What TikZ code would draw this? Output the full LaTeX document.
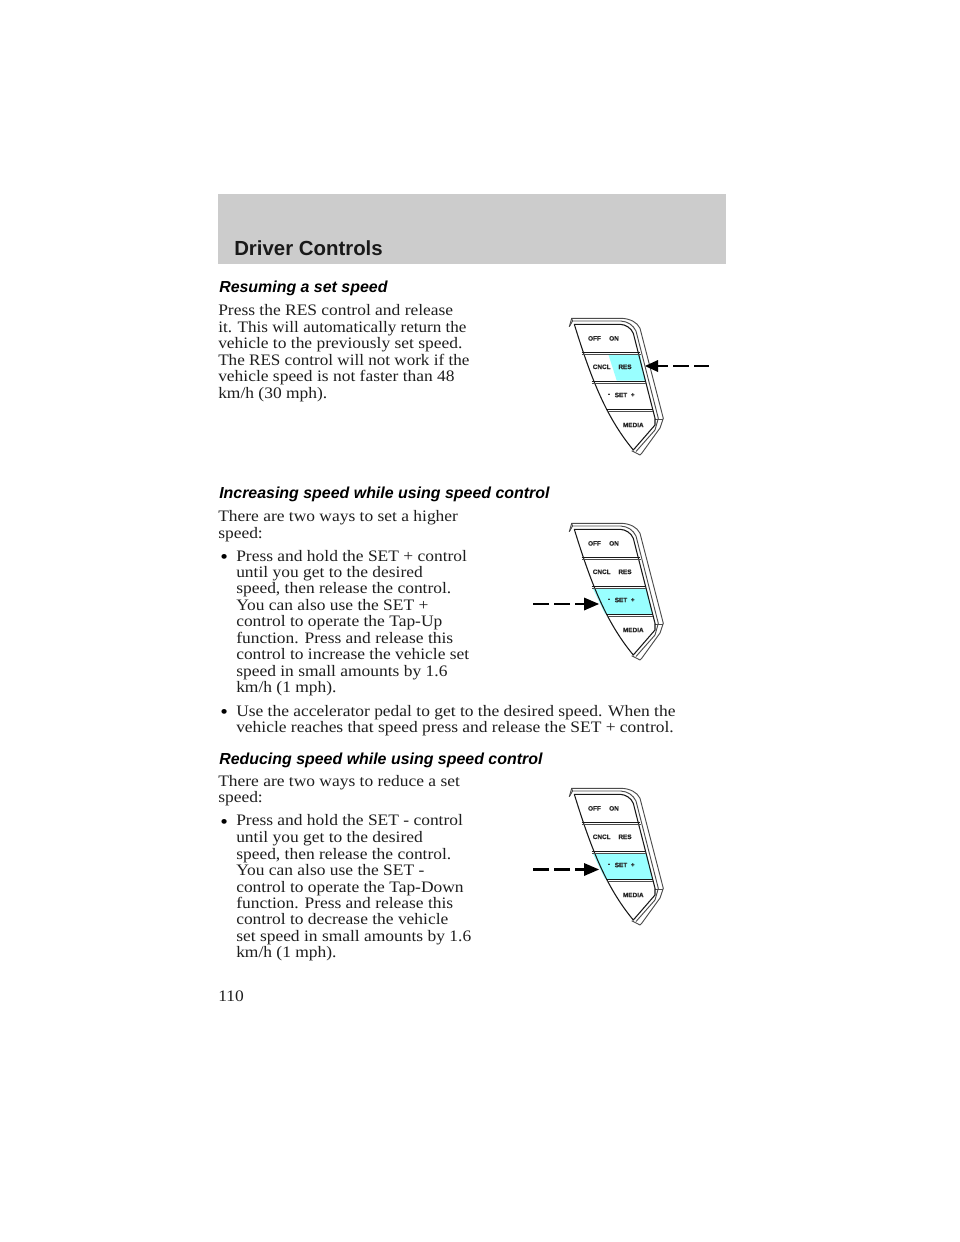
\documentclass[tikz,border=0pt]{standalone}
\usepackage{fontspec}
\setmainfont{Liberation Serif}[FakeStretch=1.09]
\setsansfont{Liberation Sans}
\newfontfamily\labfont{Liberation Sans}[BoldFeatures={FakeBold=0.8}]
\usetikzlibrary{arrows.meta}
\definecolor{hdr}{HTML}{CCCCCC}
\definecolor{hilite}{HTML}{99FFFF}
\tikzset{
  body/.style={anchor=base west,inner sep=0pt,font=\fontsize{12pt}{14pt}\selectfont,text=black!88},
  bul/.style={anchor=base west,inner sep=0pt,font=\fontsize{15pt}{14pt}\selectfont},
  sect/.style={anchor=base west,inner sep=0pt,font=\sffamily\bfseries\itshape\fontsize{11.95pt}{14pt}\selectfont},
  title/.style={anchor=base west,inner sep=0pt,font=\sffamily\bfseries\fontsize{15.3pt}{18pt}\selectfont,text=black!90},
  lab/.style={inner sep=0pt,font=\labfont\bfseries\fontsize{4.8pt}{6pt}\selectfont,text=black!85},
  edge/.style={draw=black!90,line width=0.8pt,line join=round},
  thin/.style={draw=black!70,line width=0.7pt,line join=round},
  dashseg/.style={draw=black,line width=2pt},
  head/.style={fill=black,draw=none}
}
% #1 prefix, #2 y shift, #3 RES highlight colour, #4 SET highlight colour
\newcommand{\panelpic}[4]{
  \begin{scope}[yshift=#2*-0.75pt]
    \fill[#3] (608.3,354.3) -- (640,354.3) -- (645.7,380.5) -- (616.7,380.5) -- cycle;
    \fill[#4] (592.7,383.3) -- (646.7,383.3) -- (652.7,409) -- (605,409) -- cycle;
    % outer rim
    \path[thin] (569.3,326.7) -- (571.7,318.3) -- (621.7,318.3)
       .. controls (630,318.8) and (637,322) .. (640,328.3)
       -- (663.3,418.3) -- (662.7,420) -- (660,428) -- (641.7,453.3) -- (640,455) -- (631.7,450.7);
    \path[thin] (571.7,318.3) -- (572.5,321) -- (620.7,321)
       .. controls (628,321.5) and (633,325) .. (636,331)
       -- (658.3,418.3) -- (655,430) -- (636,451.5);
    \path[thin] (569.3,326.7) -- (572.5,321);
    \path[thin] (655,419) -- (663.3,419);
    % face
    \path[edge] (574.3,324.3) -- (620,324.3)
       .. controls (626,324.6) and (631,328) .. (633.3,333.3)
       -- (655,418.3) -- (655,425) -- (633.3,450)
       .. controls (605,416) and (590,375) .. (574.3,324.3) -- cycle;
    % button dividers
    \path[edge] (581.7,352.5) -- (640,352.5);
    \path[thin] (582.2,354.6) -- (640.5,354.6);
    \path[edge] (591.7,381.3) -- (646.2,381.3);
    \path[thin] (592.2,383.3) -- (646.7,383.3);
    \path[edge] (606,409.3) -- (652.7,409.3);
    \path[thin] (606.5,411.3) -- (653.2,411.3);
    % labels
    \node[lab] (#1off) at (594.5,338.4) {OFF};
    \node[lab] (#1on) at (614,338.4) {ON};
    \node[lab] (#1cncl) at (601.7,366.8) {CNCL};
    \node[lab] (#1res) at (625,366.8) {RES};
    \node[lab] (#1minus) at (609,395) {-};
    \node[lab] (#1set) at (621,395) {SET};
    \node[lab] (#1plus) at (632.7,395) {+};
    \node[lab] (#1media) at (633.3,425) {MEDIA};
  \end{scope}
}
\begin{document}
\begin{tikzpicture}[x=0.75pt,y=-0.75pt]
\useasboundingbox (0,0) rectangle (960,1242);
\fill[white] (0,0) rectangle (960,1242);
\fill[hdr] (218,194) rectangle (726,264);
\node[title] (t) at (234,255) {Driver Controls};

\node[sect] (s1) at (219,292.3) {Resuming a set speed};
\node[body] (a1) at (218,315.7) {Press the RES control and release};
\node[body] (a2) at (218,332.2) {\scalebox{0.98}[1]{it. This will automatically return the}};
\node[body] (a3) at (218,348.7) {vehicle to the previously set speed.};
\node[body] (a4) at (218,365) {\scalebox{0.98}[1]{The RES control will not work if the}};
\node[body] (a5) at (218,381.7) {vehicle speed is not faster than 48};
\node[body] (a6) at (218,398) {km/h (30 mph).};

\node[sect] (s2) at (219,498.5) {Increasing speed while using speed control};
\node[body] (b1) at (218,521.7) {There are two ways to set a higher};
\node[body] (b2) at (218,538) {speed:};
\node[bul] (b3b) at (220,563.5) {•};
\node[body] (b3) at (236,561) {Press and hold the SET + control};
\node[body] (b4) at (236,577) {until you get to the desired};
\node[body] (b5) at (236,593.5) {speed, then release the control.};
\node[body] (b6) at (236,610) {You can also use the SET +};
\node[body] (b7) at (236,626.7) {control to operate the Tap-Up};
\node[body] (b8) at (236,643) {function. Press and release this};
\node[body] (b9) at (236,659.4) {control to increase the vehicle set};
\node[body] (b10) at (236,676) {speed in small amounts by 1.6};
\node[body] (b11) at (236,692.3) {km/h (1 mph).};
\node[bul] (b12b) at (220,718.5) {•};
\node[body] (b12) at (236,716) {Use the accelerator pedal to get to the desired speed. When the};
\node[body] (b13) at (236,732.7) {vehicle reaches that speed press and release the SET + control.};

\node[sect] (s3) at (219,764) {Reducing speed while using speed control};
\node[body] (c1) at (218,786.7) {There are two ways to reduce a set};
\node[body] (c2) at (218,802.7) {speed:};
\node[bul] (c3b) at (220,828.2) {•};
\node[body] (c3) at (236,825.7) {Press and hold the SET - control};
\node[body] (c4) at (236,842.3) {until you get to the desired};
\node[body] (c5) at (236,859) {speed, then release the control.};
\node[body] (c6) at (236,875.3) {You can also use the SET -};
\node[body] (c7) at (236,892) {control to operate the Tap-Down};
\node[body] (c8) at (236,908.3) {function. Press and release this};
\node[body] (c9) at (236,924.7) {control to decrease the vehicle};
\node[body] (c10) at (236,941) {set speed in small amounts by 1.6};
\node[body] (c11) at (236,957.7) {km/h (1 mph).};
\node[body] (pg) at (218,1001.7) {110};

\panelpic{p}{0}{hilite}{white}
\panelpic{q}{205}{white}{hilite}
\panelpic{r}{470}{white}{hilite}

% arrows
\fill[head] (645,366) -- (658,360) -- (658,372) -- cycle;
\draw[dashseg] (657,366) -- (668,366) (673,366) -- (689,366) (694,366) -- (709,366);
\fill[head] (599,604) -- (584,597.5) -- (584,610.5) -- cycle;
\draw[dashseg] (585,604) -- (575,604) (570,604) -- (554,604) (549,604) -- (533,604);
\fill[head] (599,869.5) -- (584,863) -- (584,876) -- cycle;
\draw[dashseg] (585,869.5) -- (575,869.5) (570,869.5) -- (554,869.5) (549,869.5) -- (533,869.5);
\end{tikzpicture}
\end{document}
